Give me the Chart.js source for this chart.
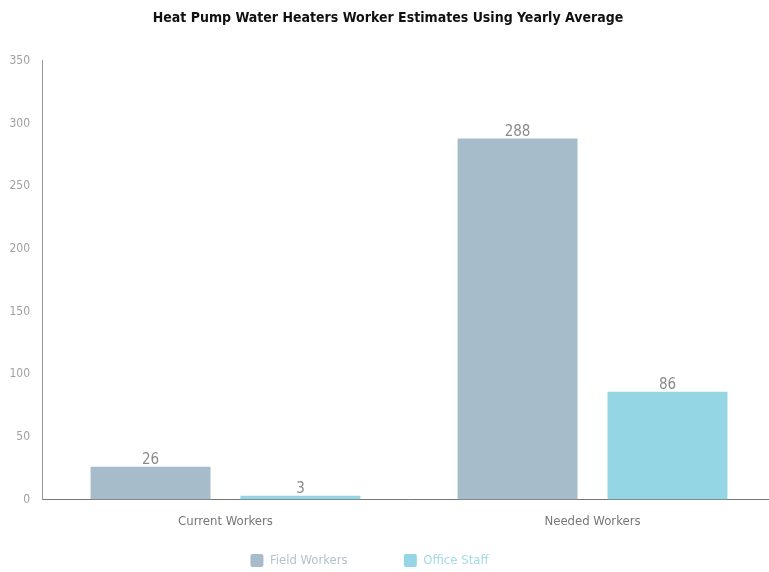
<!DOCTYPE html>
<html>
<head>
<meta charset="utf-8">
<script src="https://cdn.jsdelivr.net/npm/chart.js@4"></script>
<style>
  body { margin: 0; background: #fff; overflow: hidden; }
  #wrap { width: 769px; height: 572px; overflow: hidden; }
</style>
</head>
<body>
<div id="wrap"><canvas id="hphw" width="776" height="572"></canvas></div>
<script>
const categories = ["Current Workers", "Needed Workers"];
const fieldWorkers = [26, 288];
const officeStaff = [3, 86];
const yTicks = [0, 50, 100, 150, 200, 250, 300, 350];

const FONT = '"Liberation Sans Narrow", "DejaVu Sans Condensed", "Roboto", sans-serif';

// draws the value above each bar
const valueLabels = {
  id: "valueLabels",
  afterDatasetsDraw(chart) {
    const ctx = chart.ctx;
    ctx.save();
    ctx.font = "15px " + FONT;
    ctx.fillStyle = "#8a8a8a";
    ctx.textAlign = "center";
    ctx.textBaseline = "bottom";
    chart.data.datasets.forEach((ds, i) => {
      chart.getDatasetMeta(i).data.forEach((bar, j) => {
        ctx.fillText(ds.data[j], bar.x, bar.y + 1);
      });
    });
    ctx.restore();
  },
};

new Chart(document.getElementById("hphw"), {
  type: "bar",
  data: {
    labels: categories,
    datasets: [
      {
        label: "Field Workers",
        data: fieldWorkers,
        backgroundColor: "#a7bccb",
        categoryPercentage: 0.817,
        barPercentage: 0.8,
      },
      {
        label: "Office Staff",
        data: officeStaff,
        backgroundColor: "#94d6e4",
        categoryPercentage: 0.817,
        barPercentage: 0.8,
      },
    ],
  },
  options: {
    responsive: false,
    animation: false,
    layout: { padding: { left: 0, right: 0, top: 0, bottom: -5 } },
    plugins: {
      title: {
        display: true,
        text: "Heat Pump Water Heaters Worker Estimates Using Yearly Average",
        color: "#111",
        font: { family: FONT, size: 14, weight: "bold" },
        padding: { top: 10, bottom: 34 },
      },
      legend: {
        position: "bottom",
        labels: {
          font: { family: FONT, size: 13 },
          boxWidth: 13,
          boxHeight: 13,
          padding: 19,
          useBorderRadius: true,
          borderRadius: 2,
          generateLabels(chart) {
            return chart.data.datasets.map((ds, i) => ({
              text: ds.label + "          ",
              fillStyle: ds.backgroundColor,
              strokeStyle: ds.backgroundColor,
              lineWidth: 0,
              fontColor: ["#b3c3cf", "#a3dbe7"][i],
              borderRadius: 2,
              datasetIndex: i,
            }));
          },
        },
      },
      tooltip: { enabled: false },
    },
    scales: {
      x: {
        grid: { display: false },
        border: { display: true, color: "#777", width: 1 },
        ticks: { color: "#777", font: { family: FONT, size: 13 }, padding: 6 },
      },
      y: {
        min: 0,
        max: 350,
        grid: { display: false },
        border: { display: true, color: "#999", width: 1 },
        afterBuildTicks(scale) {
          scale.ticks = yTicks.map((v) => ({ value: v }));
        },
        afterFit(scale) {
          scale.width = 42;
        },
        ticks: { color: "#a0a0a0", font: { family: FONT, size: 12 }, padding: 4 },
      },
    },
  },
  plugins: [valueLabels],
});
</script>
</body>
</html>
